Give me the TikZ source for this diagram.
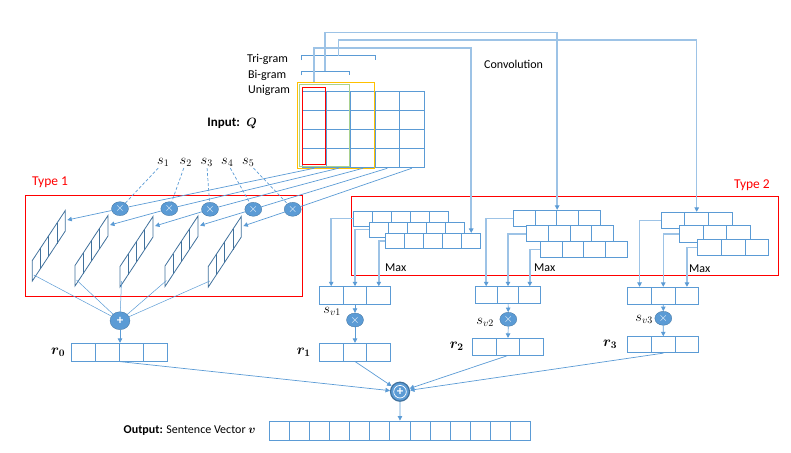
\documentclass[tikz,border=0pt]{standalone}
\usepackage{fontspec}
\setmainfont{Carlito}
\usepackage{bm}
\usetikzlibrary{arrows.meta,positioning,shapes.geometric}

\definecolor{cblue}{RGB}{91,155,213}
\definecolor{lblue}{RGB}{157,195,230}
\definecolor{dblue}{RGB}{65,113,156}
\definecolor{cyell}{RGB}{255,192,0}
\definecolor{cgreen}{RGB}{169,209,142}

\tikzset{
  cell/.style args={#1/#2}{draw=cblue,line width=0.9pt,fill=white,inner sep=0pt,minimum width=#1,minimum height=#2},
  conn/.style={draw=cblue,line width=0.7pt},
  elbow/.style={draw=lblue,line width=1.5pt},
  arr/.style={-{Triangle[width=4.5pt,length=4.5pt,color=cblue]}},
  vecp/.style={draw=dblue,line width=0.8pt},
  mult/.style={ellipse,fill=cblue,draw=dblue,line width=0.3pt,minimum width=17pt,minimum height=14pt,inner sep=0pt,text=white,font=\fontsize{12}{12}\selectfont},
  redbox/.style={draw=red,line width=1pt},
  lbl/.style={font=\fontsize{12}{14}\selectfont,inner sep=1pt},
  mlbl/.style={font=\fontsize{14}{16}\selectfont,inner sep=1pt},
  typelbl/.style={font=\fontsize{13.5}{15}\selectfont,text=red,inner sep=1pt},
}

\begin{document}
\begin{tikzpicture}[x=1pt,y=1pt,yscale=-1]
\useasboundingbox (0,0) rectangle (791,452);

% input matrix Q
\foreach \r in {1,...,4}
  \foreach \c in {1,...,5}
    \node[cell=24.4pt/19.2pt,fill=none] (q\r\c) at ({302+24.4*(\c-0.5)},{91+19.2*(\r-0.5)}) {};
\node[draw=cyell,line width=1pt,minimum width=77.3pt,minimum height=86.3pt,inner sep=0pt] (tri) at (335.7,125.2) {};
\node[draw=cgreen,line width=1pt,minimum width=49.6pt,minimum height=82.4pt,inner sep=0pt] (bi) at (324.5,125.5) {};
\node[draw=red,line width=1pt,minimum width=23.7pt,minimum height=77pt,inner sep=0pt] (uni) at (313.9,125.8) {};
\node[lbl,anchor=east,font=\fontsize{13}{15}\selectfont] (inlab) at (258,123.3) {\textbf{Input:}\enspace$\bm{Q}$};

% n-gram brackets
\draw[conn] (301,60) |- (375,55.7) -- (375,60);
\draw[conn] (301,75.3) |- (349,71) -- (349,75.3);
\coordinate (triB) at (338.3,55.7);
\coordinate (biB) at (325,71);
\node[lbl,anchor=west] (trilab) at (246,59.5) {Tri-gram};
\node[lbl,anchor=west] (bilab) at (247,75.5) {Bi-gram};
\node[lbl,anchor=west] (unilab) at (247,90) {Unigram};
\node[lbl,anchor=west] (convlab) at (483,64) {Convolution};

% Type 1
\draw[redbox] (25.3,195.7) rectangle (302.7,296);
\node[typelbl,anchor=west] (t1lab) at (31,182.3) {Type 1};
\foreach \i/\x/\y in {1/163.3/162.7,2/185.7/162.7,3/206.7/162.7,4/227.3/162.7,5/248.3/162.7}
  \node[mlbl] (s\i) at (\x,\y) {$s_{\i}$};
\foreach \i/\x/\y in {1/120/208.7,2/169.3/208.7,3/210/209.3,4/253.3/209.3,5/292.7/209.3}
  \node[mult] (m\i) at (\x,\y) {$\times$};
\foreach \i/\x/\y in {1/32.3/281,2/75/286,3/120/287,4/165/286.5,5/208.3/287}{
  \draw[vecp] (\x,\y) -- ++(0,-20.5) -- ++(33,-50) -- ++(0,20.5) -- cycle;
  \foreach \t in {1,2,3}
    \draw[vecp] ({\x+8.25*\t},{\y-12.5*\t}) -- ++(0,-20.5);
  \coordinate (vi\i) at ({\x+35},{\y-61});
  \coordinate (vo\i) at ({\x+1.5},{\y-6});
}
\foreach \i in {1,...,5}{
  \draw[conn,dash pattern=on 3pt off 2pt] (s\i) -- (m\i);
  \draw[conn] (q4\i.south) -- (m\i);
  \draw[conn,arr] (m\i) -- (vi\i);
}
\node[mult,minimum width=20pt,minimum height=18pt,font=\bfseries\fontsize{13}{13}\selectfont] (p0) at (120,320.7) {+};
\foreach \i in {1,...,5}
  \draw[conn,line width=0.5pt] (vo\i) -- (p0);
\foreach \c in {1,...,4}
  \node[cell=23.9pt/17.7pt] (rz\c) at ({71.7+23.9*(\c-0.5)},352.2) {};
\draw[conn,arr] (p0) -- (p0 |- rz2.north);
\node[mlbl,left=5pt of rz1] (rzlab) {$\bm{r}_{\bm{0}}$};

% Type 2
\draw[redbox] (351.7,196.3) rectangle (778.3,275);
\node[typelbl,anchor=east] (t2lab) at (771,185.7) {Type 2};
\foreach \k in {1,2,3}
  \foreach \c in {1,...,5}
    \node[cell=19pt/15pt] (ga\k\c) at ({353.3+16.2*(\k-1)+19*(\c-0.5)},{218.5+11.2*(\k-1)}) {};
\foreach \k in {1,2,3}
  \foreach \c in {1,...,4}
    \node[cell=21.7pt/16pt] (gb\k\c) at ({513.3+13.5*(\k-1)+21.7*(\c-0.5)},{218.3+15.5*(\k-1)}) {};
\foreach \k in {1,2,3}
  \foreach \c in {1,...,3}
    \node[cell=23.8pt/16.3pt] (gc\k\c) at ({661+18.2*(\k-1)+23.8*(\c-0.5)},{220.5+13.4*(\k-1)}) {};
\node[lbl,anchor=west] (maxa) at (384,267.3) {Max};
\node[lbl,anchor=west] (maxb) at (533,267.3) {Max};
\node[lbl,anchor=west] (maxc) at (688,268.3) {Max};

% convolution lines
\draw[elbow,arr] (uni.north |- tri.north) -- ++(0,-33.7) -| (ga35.north);
\draw[elbow,arr] (biB) -- ++(0,-38.7) -| (gb12.north east);
\draw[elbow,arr] (triB) -- ++(0,-15.7) -| (gc12.north);

% max pooling
\foreach \c in {1,2,3}{
  \node[cell=23.8pt/17.6pt] (pa\c) at ({319.3+23.8*(\c-0.5)},295.5) {};
  \node[cell=21.8pt/16.6pt] (pb\c) at ({475.3+21.8*(\c-0.5)},295) {};
  \node[cell=23.7pt/17pt] (pc\c) at ({627.7+23.7*(\c-0.5)},295.8) {};
  \node[cell=23.8pt/17.7pt] (ra\c) at ({319.3+23.8*(\c-0.5)},352.2) {};
  \node[cell=23.7pt/16.7pt] (rb\c) at ({472.3+23.7*(\c-0.5)},346.7) {};
  \node[cell=23.7pt/16pt] (rc\c) at ({627.7+23.7*(\c-0.5)},344.7) {};
}
\foreach \k in {1,2,3}{
  \draw[elbow,arr] (ga\k1.west) -| (pa\k.north);
  \draw[elbow,arr] (gb\k1.west) -| (pb\k.north);
  \draw[elbow,arr] (gc\k1.west) -| (pc\k.north);
}
\node[mult] (mva) at (355,320) {$\times$};
\node[mult] (mvb) at (508.3,319.3) {$\times$};
\node[mult] (mvc) at (663.3,318.3) {$\times$};
\node[mlbl,anchor=east] (sva) at (342,311.7) {$s_{v1}$};
\node[mlbl,anchor=east] (svb) at (495,322.7) {$s_{v2}$};
\node[mlbl,anchor=east] (svc) at (654,319.3) {$s_{v3}$};
\foreach \g in {a,b,c}{
  \draw[conn,arr] (p\g2) -- (mv\g);
  \draw[conn,arr] (mv\g) -- (r\g2);
}
\node[mlbl,left=7pt of ra1] (ralab) {$\bm{r}_{\bm{1}}$};
\node[mlbl,left=7pt of rb1] (rblab) {$\bm{r}_{\bm{2}}$};
\node[mlbl,left=9pt of rc1] (rclab) {$\bm{r}_{\bm{3}}$};

% sum and output
\node[circle,fill=cblue,draw=dblue,line width=1.2pt,minimum size=19pt,inner sep=0pt,text=white,font=\bfseries\fontsize{13}{13}\selectfont] (pf) at (400,391.7) {+};
\draw[white,line width=0.7pt] (pf.center) circle (6.3);
\draw[conn,arr] (rz3.south west) -- (pf);
\draw[conn,arr] (ra2.south) -- (pf);
\draw[conn,arr] (rb2.south) -- (pf);
\draw[conn,arr] (rc2.south) -- (pf);
\foreach \c in {1,...,13}
  \node[cell=20.1pt/19pt] (out\c) at ({269.3+20.1*(\c-0.5)},430.5) {};
\draw[conn,arr] (pf) -- (out7);
\node[lbl,left=12pt of out1] (outlab) {\textbf{Output:} Sentence Vector $\bm{v}$};
\end{tikzpicture}
\end{document}
